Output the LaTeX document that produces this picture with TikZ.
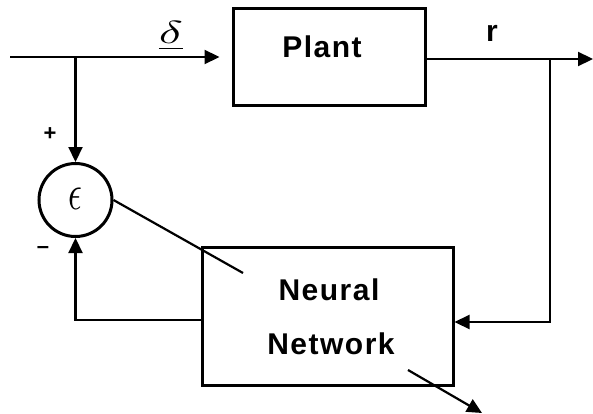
\documentclass[tikz,border=0pt]{standalone}
\usepackage{fontspec}
\usepackage{graphicx}
\setmainfont{Liberation Sans}
\usetikzlibrary{arrows.meta}
\begin{document}
\begin{tikzpicture}[x=1pt,y=-1pt,
  blk/.style={draw, line width=3pt, inner sep=0pt},
  lbl/.style={font=\fontsize{30}{30}\selectfont\bfseries\addfontfeatures{LetterSpace=5}, inner sep=0pt},
  sumnode/.style={draw, circle, line width=3pt, minimum size=73pt, inner sep=0pt},
  conn/.style={line width=2.2pt},
  arr/.style={conn, -{Triangle[length=15pt,width=14pt]}},
  sign/.style={font=\fontsize{22}{22}\selectfont\bfseries, inner sep=0pt}]
\useasboundingbox (0,0) rectangle (593,414);
\node[blk, minimum width=192pt, minimum height=97pt] (plant) at (329,57.5) {};
\node[blk, minimum width=251pt, minimum height=138pt] (nn) at (327.5,316) {};
\node[sumnode] (eps) at (75.5,200) {};
\node[inner sep=0pt] (epslbl) at (75,199) {\scalebox{3.4}[5]{$\epsilon$}};
\node[lbl, anchor=base] (plantlbl) at (322,58) {Plant};
\node[lbl, anchor=base] (nnlbl1) at (329,300) {Neural};
\node[lbl, anchor=base] (nnlbl2) at (331,354) {Network};
\coordinate (in) at (10,57);
\coordinate (j1) at (75.5,57);
\coordinate (j2) at (550,59);
\coordinate (out) at (593,59);
\coordinate (d1) at (243,273);
\coordinate (o1) at (408,370);
\coordinate (o2) at (482,413);
\draw[conn] (in) -- (j1);
\draw[arr, shorten >=12pt] (j1) -- (plant.west |- j1);
\draw[arr] (j1) -- (eps.north);
\draw[arr] (plant.east |- j2) -- (out);
\draw[arr] (j2) |- ([yshift=-6pt]nn.east);
\draw[arr] ([yshift=-4pt]nn.west) -| (eps.south);
\draw[conn] (eps.east) -- (d1);
\draw[arr] (o1) -- (o2);
\node[inner sep=0pt] (delta) at (171,36) {\scalebox{5}[3.2]{$\underline{\delta}$}};
\node[font=\fontsize{30}{30}\selectfont\bfseries, anchor=base, inner sep=0pt] (r) at (492,42) {r};
\node[sign] (plus) at (50,134) {+};
\node[sign] (minus) at (43,250) {--};
\end{tikzpicture}
\end{document}
